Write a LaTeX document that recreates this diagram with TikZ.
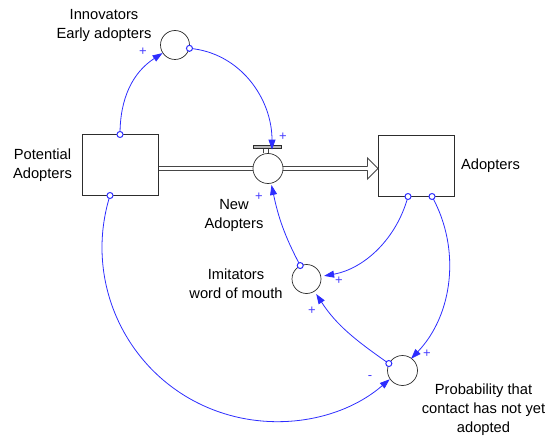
\documentclass[tikz,border=0pt]{standalone}
\usepackage{fontspec}
\setmainfont{Liberation Sans}
\usetikzlibrary{arrows.meta,calc}
\definecolor{linkblue}{RGB}{45,45,255}
\definecolor{signblue}{RGB}{70,60,255}
\definecolor{edge}{RGB}{45,45,45}
\definecolor{pipegray}{RGB}{70,70,70}
\pgfdeclarelayer{bg}
\pgfsetlayers{bg,main}

\begin{document}
\begin{tikzpicture}[x=1pt,y=1pt,
  lbl/.style={font=\fontsize{14.7}{19}\selectfont, align=center, text=black, inner sep=0pt},
  stock/.style={draw=edge, line width=1pt, minimum width=76pt, minimum height=60pt, inner sep=0pt},
  aux/.style={circle, draw=edge, line width=0.7pt, fill=white, minimum size=29pt, inner sep=0pt},
  link/.style={draw=linkblue, line width=0.8pt, -{Triangle[length=10pt,width=7pt]}},
  tailmark/.style={draw=linkblue, line width=1pt, fill=white},
  sign/.style={text=signblue, font=\fontsize{13}{13}\selectfont, inner sep=0pt},
  pipe/.style={draw=pipegray, line width=0.9pt},
]
\useasboundingbox (0,0) rectangle (549,-441);

% stocks and auxiliaries
\node[stock] (pa) at (120,-165) {};
\node[stock] (ad) at (416.5,-166) {};
\node[aux, minimum size=30pt] (valve) at (268,-168.5) {};
\node[aux] (inn) at (175,-45) {};
\node[aux] (imi) at (306.5,-279) {};
\node[aux, minimum size=30pt] (prob) at (402.5,-370.5) {};

% labels
\node[lbl] (paL) at (42.5,-165) {Potential\\Adopters};
\node[lbl] (adL) at (490.5,-165.5) {Adopters};
\node[lbl] (innL) at (104,-25) {Innovators\\Early adopters};
\node[lbl] (valL) at (234,-215) {New\\Adopters};
\node[lbl] (imiL) at (236,-283.5) {Imitators\\word of mouth};
\node[lbl] (probL) at (483.5,-409.5) {Probability that\\contact has not yet\\adopted};

% flow pipe from Potential Adopters to Adopters
\begin{pgfonlayer}{bg}
  \draw[pipe, double=white, double distance=3.2pt]
    (pa.east |- valve.center) -- ([xshift=-10.5pt]ad.west |- valve.center);
\end{pgfonlayer}
\draw[pipe, fill=white]
  ($(ad.west |- valve.center)+(-10.5,2)$) -- ++(0,8.5)
  -- (ad.west |- valve.center)
  -- ($(ad.west |- valve.center)+(-10.5,-10.5)$) -- ++(0,8.5);

% valve handle
\draw[pipe, line width=0.7pt] ($(valve.north)+(-5,0)$) -- ++(0,5.5)
  ($(valve.north)+(0,0)$) -- ++(0,5.5);
\draw[draw=edge, fill=gray!55, line width=0.6pt]
  ($(valve.north)+(-15,5.3)$) rectangle ($(valve.north)+(13,7.8)$);
\coordinate (vt) at ($(valve.north)+(4,3.5)$);

% information links
\draw[link] (pa.north) to[out=90,in=213] (inn);
\draw[link] (inn.-13) to[out=-5,in=90] (vt);
\draw[link, shorten >=1.5pt] (imi.115) to[out=118,in=-78] (valve);
\draw[link, shorten >=3pt] ([xshift=-8.5pt]ad.south) to[out=-105,in=10,looseness=0.95] (imi);
\draw[link] ([xshift=15.5pt]ad.south) arc[start angle=29, end angle=-43.7, radius=138pt];
\draw[link, shorten >=3pt] (prob.153) to[out=145,in=-57] (imi);
\draw[link] ([xshift=-10pt]pa.south) arc[start angle=162.6, end angle=310.8, radius=174pt];

% link tails
\draw[tailmark] (pa.north) circle[radius=3pt];
\draw[tailmark] ([xshift=-10pt]pa.south) circle[radius=3pt];
\draw[tailmark] (inn.-13) circle[radius=3pt];
\draw[tailmark] ([xshift=-8.5pt]ad.south) circle[radius=3pt];
\draw[tailmark] ([xshift=15.5pt]ad.south) circle[radius=3pt];
\draw[tailmark] (imi.115) circle[radius=3pt];
\draw[tailmark] (prob.153) circle[radius=3pt];

% link polarities
\node[sign] (s1) at (143,-52) {+};
\node[sign] (s2) at (283,-137) {+};
\node[sign] (s3) at (259,-197) {+};
\node[sign] (s4) at (339,-281) {+};
\node[sign] (s5) at (312,-311) {+};
\node[sign] (s6) at (427,-354) {+};
\node[sign] (s7) at (370,-377.5) {-};
\end{tikzpicture}
\end{document}
